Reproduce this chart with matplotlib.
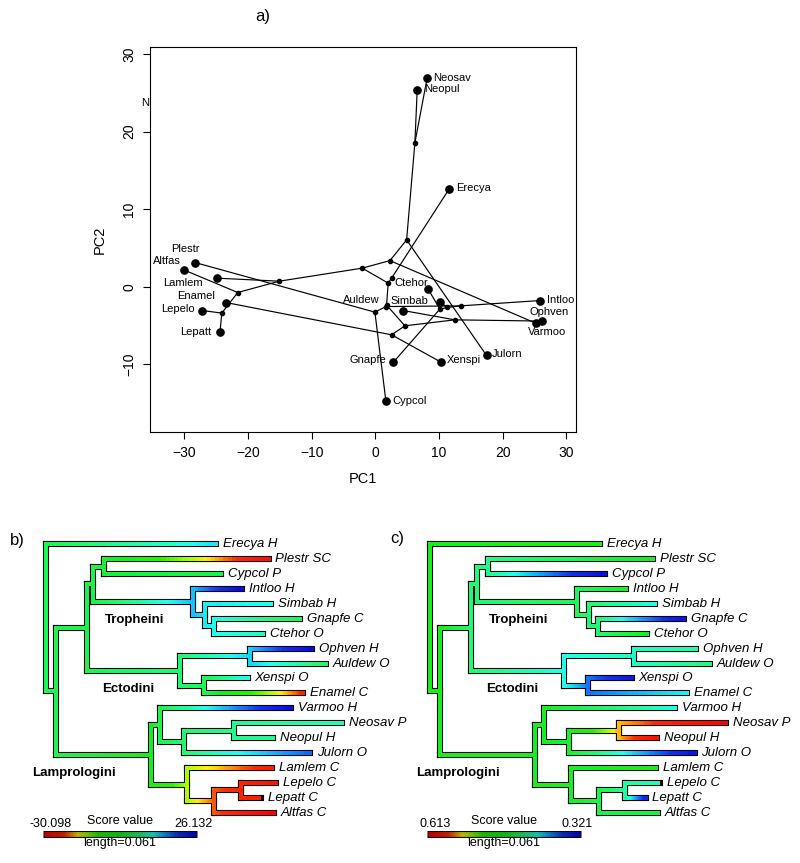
import numpy as np
import matplotlib
matplotlib.use("Agg")
import matplotlib.pyplot as plt
from matplotlib.collections import LineCollection
from matplotlib.colors import LinearSegmentedColormap

plt.rcParams['font.family'] = ['Liberation Sans', 'DejaVu Sans']

# taxa, top to bottom as in the trees
taxa = ["Erecya", "Plestr", "Cypcol", "Intloo", "Simbab", "Gnapfe", "Ctehor",
        "Ophven", "Auldew", "Xenspi", "Enamel", "Varmoo", "Neosav", "Neopul",
        "Julorn", "Lamlem", "Lepelo", "Lepatt", "Altfas"]
ecotype = ["H", "SC", "P", "H", "H", "C", "O", "H", "O", "O", "C", "H", "P", "H",
           "O", "C", "C", "C", "C"]
tip_depth = [0.0676, 0.0884, 0.0696, 0.0778, 0.0894, 0.1009, 0.0861, 0.1056,
             0.1111, 0.0801, 0.1020, 0.0972, 0.1174, 0.0901, 0.1049, 0.0897,
             0.0914, 0.0855, 0.0904]

# internal nodes
nodes = ["root", "rest", "A", "Ttop", "T1", "T2", "T3", "T4", "E", "E1", "E2",
         "L", "N3", "N2", "N1", "LL3", "LL2", "LL1"]
node_children = [("Erecya", "rest"), ("A", "L"), ("Ttop", "E"), ("T1", "T2"),
                 ("Plestr", "Cypcol"), ("Intloo", "T3"), ("Simbab", "T4"),
                 ("Gnapfe", "Ctehor"), ("E1", "E2"), ("Ophven", "Auldew"),
                 ("Xenspi", "Enamel"), ("N3", "LL3"), ("Varmoo", "N2"),
                 ("N1", "Julorn"), ("Neosav", "Neopul"), ("Lamlem", "LL2"),
                 ("LL1", "Altfas"), ("Lepelo", "Lepatt")]
node_depth = [0.0, 0.0042, 0.0163, 0.0188, 0.0232, 0.0585, 0.0632, 0.0667,
              0.0533, 0.0809, 0.0629, 0.0418, 0.0452, 0.0550, 0.0748, 0.0561,
              0.0669, 0.0774]

# PC scores of tips and ancestors (panel a, also mapped in b)
tip_pc1 = [11.58, -28.32, 1.65, 25.92, 10.12, 2.79, 8.29, 26.13, 4.36, 10.28,
           -23.46, 25.14, 8.13, 6.56, 17.45, -24.92, -27.18, -24.40, -30.10]
tip_pc2 = [12.61, 3.13, -14.76, -1.76, -1.89, -9.74, -0.30, -4.41, -3.05, -9.69,
           -2.02, -4.67, 26.94, 25.35, -8.84, 1.12, -3.05, -5.79, 2.19]
node_pc1 = [2.54, 2.01, 1.75, 1.65, -0.08, 13.37, 11.27, 10.12, 4.63, 12.47,
            2.54, -2.07, 2.28, 4.90, 6.20, -15.09, -21.62, -24.13]
node_pc2 = [1.12, 0.48, -2.35, -2.54, -3.26, -2.45, -2.66, -2.87, -5.02, -4.25,
            -6.18, 2.41, 3.38, 6.05, 18.57, 0.73, -0.73, -3.38]

# second mapped score (panel c)
tip_score = [0.470, 0.468, 0.325, 0.462, 0.405, 0.330, 0.465, 0.418, 0.428,
             0.332, 0.400, 0.405, 0.613, 0.600, 0.330, 0.468, 0.415, 0.345, 0.455]
node_score = [0.468, 0.466, 0.432, 0.430, 0.425, 0.440, 0.432, 0.430, 0.405,
              0.412, 0.370, 0.466, 0.463, 0.458, 0.555, 0.462, 0.448, 0.420]

lims_b = (-30.098, 26.132)
lims_c = (0.613, 0.321)
scale_len = 0.061

children = dict(zip(nodes, node_children))
# rainbow as it appears in the printed legend
cmap = LinearSegmentedColormap.from_list("rainbow_print", [
    (0.00, "#ff0000"), (0.13, "#ff2a00"), (0.22, "#ffee00"), (0.29, "#88ff00"),
    (0.36, "#22f500"), (0.50, "#18ee18"), (0.62, "#22f870"), (0.72, "#22ffee"),
    (0.81, "#1190ff"), (0.89, "#1030f0"), (1.00, "#0808e6")])

W, H = 800, 863
fig = plt.figure(figsize=(W / 100, H / 100), dpi=100)


def px_axes(left, top, right, bottom):
    return fig.add_axes([left / W, 1 - bottom / H, (right - left) / W, (bottom - top) / H])


# ---------------- panel a: phylomorphospace ----------------
ax = px_axes(150, 47, 576, 432)
pc1 = dict(zip(taxa, tip_pc1)); pc1.update(zip(nodes, node_pc1))
pc2 = dict(zip(taxa, tip_pc2)); pc2.update(zip(nodes, node_pc2))
for n in nodes:
    for c in children[n]:
        ax.plot([pc1[n], pc1[c]], [pc2[n], pc2[c]], color='black', lw=0.85, zorder=1)
ax.plot(node_pc1, node_pc2, 'o', color='black', ms=3, zorder=2)
ax.plot(tip_pc1, tip_pc2, 'o', color='black', ms=5.2, zorder=3)

# label offsets in pixels (dx, dy down) and alignment
label_pos = {
    "Neosav": (5.7, 0, 'left'), "Neopul": (6.7, -1, 'left'), "Erecya": (6.7, -1, 'left'),
    "Plestr": (-9.3, -13.4, 'center'), "Altfas": (-2.6, -9.3, 'right'),
    "Lamlem": (-14, 5, 'right'), "Enamel": (-11, -6.4, 'right'),
    "Lepelo": (-7.3, -1.4, 'right'), "Lepatt": (-8.3, 0, 'right'),
    "Auldew": (-23.3, -10.7, 'right'), "Simbab": (-11.7, -1, 'right'),
    "Ctehor": (0, -6.6, 'right'), "Intloo": (6.6, -0.7, 'left'),
    "Ophven": (7.6, -8.6, 'center'), "Varmoo": (11.5, 9, 'center'),
    "Gnapfe": (-6.6, -2, 'right'), "Xenspi": (5.7, -1.6, 'left'),
    "Julorn": (5, -1.7, 'left'), "Cypcol": (6.3, -0.7, 'left'),
}
for name, x, y in zip(taxa, tip_pc1, tip_pc2):
    dx, dy, ha = label_pos[name]
    ax.annotate(name, (x, y), xytext=(dx * 0.72, -dy * 0.72), textcoords='offset points',
                ha=ha, va='center', fontsize=8)

ax.set_xlim(-35.4, 31.5)
ax.set_ylim(-18.7, 30.9)
ax.set_xticks([-30, -20, -10, 0, 10, 20, 30])
ax.set_yticks([-10, 0, 10, 20, 30])
ax.tick_params(direction='out', length=5, width=0.8, labelsize=10, pad=5)
ax.tick_params(axis='y', labelrotation=90)
for lbl in ax.get_yticklabels():
    lbl.set_va('center')
for s in ax.spines.values():
    s.set_linewidth(0.8)
ax.set_xlabel("PC1", fontsize=10.5, labelpad=9)
ax.set_ylabel("PC2", fontsize=10.5, labelpad=11)
fig.text(145.5 / W, 1 - 103 / H, "N", fontsize=8, ha='center', va='center')
fig.text(263 / W, 1 - 17 / H, "a)", fontsize=12, ha='center', va='center')


# ---------------- panels b, c: contMap trees ----------------
def tree_layout():
    y = {name: i for i, name in enumerate(taxa)}
    depth = dict(zip(taxa, tip_depth))
    depth.update(zip(nodes, node_depth))

    def get_y(n):
        if n not in y:
            y[n] = np.mean([get_y(c) for c in children[n]])
        return y[n]
    get_y("root")
    return y, depth


LW_OUT, LW_IN = 4.4, 2.9


def draw_contmap(ax, tip_vals, node_vals, lims):
    y, depth = tree_layout()
    val = dict(zip(taxa, tip_vals)); val.update(zip(nodes, node_vals))
    col = lambda v: cmap(np.clip((v - lims[0]) / (lims[1] - lims[0]), 0, 1))
    outline, hsegs, hcols, tsegs, tcols, vsegs, vcols = [], [], [], [], [], [], []
    for n in nodes:
        d = depth[n]
        ys = [y[c] for c in children[n]]
        vsegs.append([(d, min(ys)), (d, max(ys))])
        vcols.append(col(val[n]))
        for c in children[n]:
            xs = np.linspace(d, depth[c], 41)
            vs = np.linspace(val[n], val[c], 41)
            for k in range(40):
                seg = [(xs[k], y[c]), (xs[k + 1], y[c])]
                cc = col((vs[k] + vs[k + 1]) / 2)
                if k == 39:
                    tsegs.append(seg); tcols.append(cc)
                else:
                    hsegs.append(seg); hcols.append(cc)
            outline.append([(d, y[c]), (depth[c], y[c])])
    ax.add_collection(LineCollection(outline + vsegs, colors='black', linewidths=LW_OUT,
                                     capstyle='projecting'))
    ax.add_collection(LineCollection(hsegs, colors=hcols, linewidths=LW_IN, capstyle='butt'))
    ax.add_collection(LineCollection(tsegs, colors=tcols, linewidths=LW_IN, capstyle='projecting'))
    ax.add_collection(LineCollection(vsegs, colors=vcols, linewidths=LW_IN, capstyle='projecting'))

    for name, e, d, i in zip(taxa, ecotype, tip_depth, range(len(taxa))):
        ax.annotate(f"{name} {e}", (d, i), xytext=(4.8, 0), textcoords='offset points',
                    ha='left', va='center', fontsize=9.5, style='italic')

    for txt, x, yy in [("Tropheini", 0.0353, 5.08), ("Ectodini", 0.0327, 9.70),
                       ("Lamprologini", 0.0113, 15.36)]:
        ax.text(x, yy, txt, fontsize=9.5, fontweight='bold', ha='center', va='center')

    # colour legend
    x0 = -0.0011
    x1 = x0 + scale_len
    yb = 19.44
    ax.plot([x0, x1], [yb, yb], color='black', lw=5.0, solid_capstyle='butt')
    xs = np.linspace(x0 + 0.0004, x1 - 0.0004, 201)
    vs = np.linspace(lims[0], lims[1], 200)
    segs = [[(xs[k], yb), (xs[k + 1], yb)] for k in range(200)]
    ax.add_collection(LineCollection(segs, colors=[col(v) for v in vs], linewidths=3.5,
                                     capstyle='butt'))
    ax.text(x0 + 0.0033, 18.78, f"{lims[0]:.3f}", fontsize=9, ha='center', va='center')
    ax.text(x1 - 0.0014, 18.78, f"{lims[1]:.3f}", fontsize=9, ha='center', va='center')
    ax.text((x0 + x1) / 2, 18.56, "Score value", fontsize=9, ha='center', va='center')
    ax.text((x0 + x1) / 2, 20.05, f"length={scale_len}", fontsize=9, ha='center', va='center')

    ax.set_xlim(-0.00614, 0.14438)
    ax.set_ylim(20.504, -0.959)
    ax.axis('off')


axb = px_axes(30, 530, 410, 850)
draw_contmap(axb, tip_pc1, node_pc1, lims_b)
axc = px_axes(414.2, 530, 794.2, 850)
draw_contmap(axc, tip_score, node_score, lims_c)

fig.text(17 / W, 1 - 540 / H, "b)", fontsize=12, ha='center', va='center')
fig.text(397 / W, 1 - 538 / H, "c)", fontsize=12, ha='center', va='center')

fig.savefig("out.png", dpi=100)
